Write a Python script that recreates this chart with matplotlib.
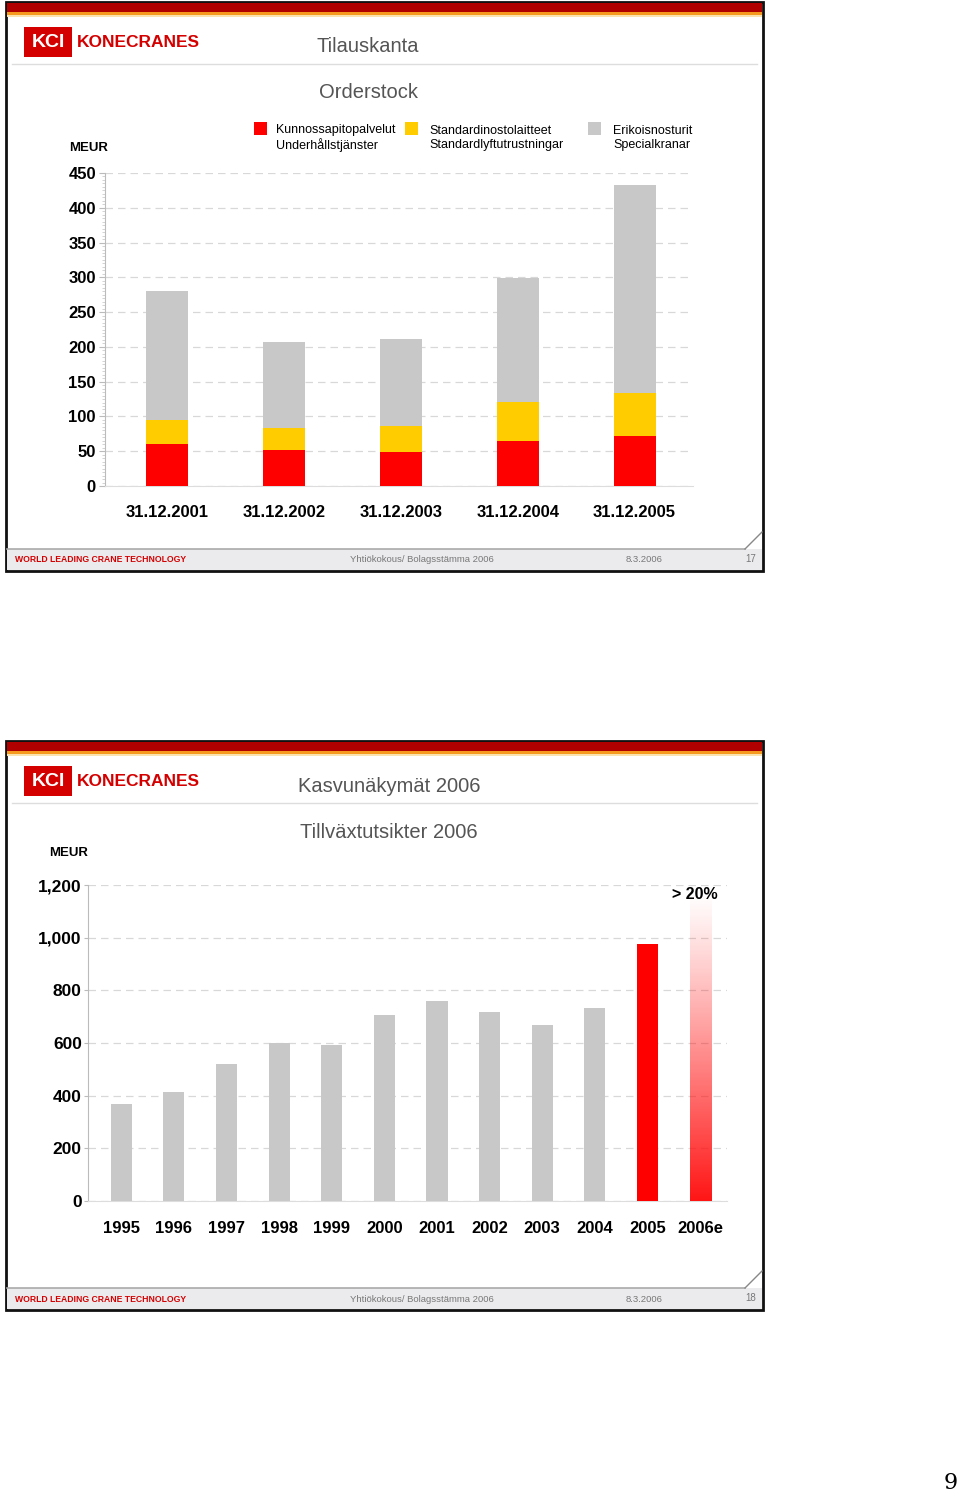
import numpy as np
import matplotlib
matplotlib.use('Agg')
from matplotlib import pyplot as plt
from matplotlib.patches import Rectangle
from matplotlib.ticker import MultipleLocator, FuncFormatter

# slide 17 - orderstock by segment (MEUR)
dates = ['31.12.2001', '31.12.2002', '31.12.2003', '31.12.2004', '31.12.2005']
service = [60, 52, 49, 64, 72]
standard = [35, 31, 37, 57, 61]
special = [185, 124, 125, 178, 300]
seg_names = ['Kunnossapitopalvelut\nUnderhållstjänster',
             'Standardinostolaitteet\nStandardlyftutrustningar',
             'Erikoisnosturit\nSpecialkranar']

# slide 18 - sales history and outlook (MEUR)
years = ['1995', '1996', '1997', '1998', '1999', '2000', '2001', '2002', '2003', '2004', '2005', '2006e']
sales = [368, 414, 520, 600, 592, 706, 760, 718, 668, 733, 976, 1170]

RED = '#ff0000'
YEL = '#ffcc00'
GRY = '#c8c8c8'
BRAND = '#d40000'

plt.rcParams['font.family'] = ['Liberation Sans', 'DejaVu Sans']
W, H = 960, 1494
fig = plt.figure(figsize=(W / 100, H / 100), dpi=100)

bg = fig.add_axes([0, 0, 1, 1])
bg.set_xlim(0, W)
bg.set_ylim(H, 0)
bg.axis('off')


def px_axes(x0, y0, x1, y1):
    return fig.add_axes([x0 / W, 1 - y1 / H, (x1 - x0) / W, (y1 - y0) / H])


def slide(top, bottom, title, subtitle, page, sub_y, title_x):
    # frame
    bg.add_patch(Rectangle((6, top), 757, bottom - top, fc='white', ec='#111111', lw=2, zorder=1))
    bg.add_patch(Rectangle((7, top + 1), 755, 9, fc='#b00000', ec='none', zorder=2))
    bg.add_patch(Rectangle((7, top + 10), 755, 3, fc='#f59a1f', ec='none', zorder=2))
    bg.add_patch(Rectangle((7, top + 13), 755, 1.5, fc='#fbe3b0', ec='none', zorder=2))
    bg.plot([12, 757], [top + 62, top + 62], color='#dddddd', lw=1, zorder=2)
    # logo
    bg.add_patch(Rectangle((24, top + 25), 48, 30, fc=BRAND, ec='none', zorder=3))
    bg.text(48, top + 40.5, 'KCI', color='white', fontsize=14, fontweight='bold',
            ha='center', va='center', zorder=4)
    bg.text(77, top + 40.5, 'KONECRANES', color=BRAND, fontsize=12.5, fontweight='bold',
            ha='left', va='center', zorder=4)
    bg.text(title_x, top + 45, title, color='#555555', fontsize=14.5, ha='center', va='center', zorder=4)
    bg.text(title_x, sub_y, subtitle, color='#555555', fontsize=14.5, ha='center', va='center', zorder=4)
    # footer
    fb = bottom - 22
    bg.add_patch(Rectangle((7, fb), 755, 21, fc='#ebebee', ec='none', zorder=2))
    bg.plot([7, 745], [fb, fb], color='#aaaaaa', lw=1.2, zorder=3)
    bg.plot([745, 762], [fb, fb - 17], color='#888888', lw=1, zorder=3)
    bg.text(15, fb + 11, 'WORLD LEADING CRANE TECHNOLOGY', color=BRAND, fontsize=6.2, fontweight='bold',
            ha='left', va='center', zorder=4)
    bg.text(422, fb + 11, 'Yhtiökokous/ Bolagsstämma 2006', color='#777777', fontsize=6.8,
            ha='center', va='center', zorder=4)
    bg.text(644, fb + 11, '8.3.2006', color='#777777', fontsize=6.8, ha='center', va='center', zorder=4)
    bg.text(756, fb + 10, page, color='#777777', fontsize=7, ha='right', va='center', zorder=4)


slide(2, 571, 'Tilauskanta', 'Orderstock', '17', 92, 368)
slide(741, 1310, 'Kasvunäkymät 2006', 'Tillväxtutsikter 2006', '18', 833, 389)

# ---- chart 1: stacked bars
ax1 = px_axes(105, 173, 693, 486)
ax1.patch.set_alpha(0)
x1 = np.arange(len(dates))
ax1.bar(x1, service, width=0.36, color=RED, zorder=3)
ax1.bar(x1, standard, width=0.36, bottom=service, color=YEL, zorder=3)
ax1.bar(x1, special, width=0.36, bottom=np.add(service, standard), color=GRY, zorder=3)
ax1.set_xlim(-0.53, 4.5)
ax1.set_ylim(0, 450)
ax1.yaxis.set_major_locator(MultipleLocator(50))
ax1.yaxis.set_minor_locator(MultipleLocator(5))
ax1.grid(axis='y', which='major', color='#d8d8d8', ls=(0, (6, 4)), lw=0.9, zorder=0)
ax1.set_xticks(x1)
ax1.set_xticklabels(dates, fontsize=12, fontweight='bold')
ax1.tick_params(axis='x', length=0, pad=14)
ax1.tick_params(axis='y', which='major', length=4, color='#bbbbbb', labelsize=12, pad=2.5)
ax1.tick_params(axis='y', which='minor', length=2.5, color='#cccccc')
for lb in ax1.get_yticklabels():
    lb.set_fontweight('bold')
for s in ['top', 'right']:
    ax1.spines[s].set_visible(False)
ax1.spines['left'].set_color('#bbbbbb')
ax1.spines['bottom'].set_color('#dddddd')
bg.text(69, 148, 'MEUR', fontsize=9.5, fontweight='bold', ha='left', va='center', zorder=4)

# legend drawn by hand to follow the slide layout
for col, name, sx, tx in zip([RED, YEL, GRY], seg_names, [254, 405, 588], [276, 429, 613]):
    bg.add_patch(Rectangle((sx, 122), 13, 13, fc=col, ec='none', zorder=4))
    bg.text(tx, 138, name, fontsize=9, ha='left', va='center', linespacing=1.25, zorder=4)

# ---- chart 2: sales with gradient outlook bar
ax2 = px_axes(88, 885, 727, 1201)
ax2.patch.set_alpha(0)
x2 = np.arange(len(years))
cols = [GRY] * (len(years) - 2) + [RED, 'none']
bars = ax2.bar(x2, sales, width=0.4, color=cols, zorder=3)
last = bars[-1]
grad = np.zeros((256, 1, 4))
grad[:, 0, 0] = 1.0
grad[:, 0, 1] = 0.08
grad[:, 0, 2] = 0.08
grad[:, 0, 3] = np.linspace(1.0, 0.0, 256) ** 1.1
im = ax2.imshow(grad, extent=[last.get_x(), last.get_x() + last.get_width(), 0, last.get_height()],
                origin='lower', aspect='auto', zorder=3)
im.set_clip_path(last)
ax2.set_xlim(-0.63, 11.51)
ax2.set_ylim(0, 1200)
ax2.yaxis.set_major_locator(MultipleLocator(200))
ax2.yaxis.set_major_formatter(FuncFormatter(lambda v, p: f'{int(v):,}'))
ax2.grid(axis='y', color='#d8d8d8', ls=(0, (6, 4)), lw=0.9, zorder=0)
ax2.set_xticks(x2)
ax2.set_xticklabels(years, fontsize=12, fontweight='bold')
ax2.tick_params(axis='x', length=0, pad=14.5)
ax2.tick_params(axis='y', length=3, color='#bbbbbb', labelsize=12.5, pad=1.5)
for lb in ax2.get_yticklabels():
    lb.set_fontweight('bold')
for s in ['top', 'right']:
    ax2.spines[s].set_visible(False)
ax2.spines['left'].set_color('#bbbbbb')
ax2.spines['bottom'].set_color('#dddddd')
ax2.text(x2[-1] - 0.1, 1165, '> 20%', fontsize=11.5, fontweight='bold', ha='center', va='center')
bg.text(49, 853, 'MEUR', fontsize=9.5, fontweight='bold', ha='left', va='center', zorder=4)

# page number
bg.text(951, 1483, '9', fontsize=16, family='DejaVu Serif', ha='center', va='center')

fig.savefig('out.png', dpi=100)
